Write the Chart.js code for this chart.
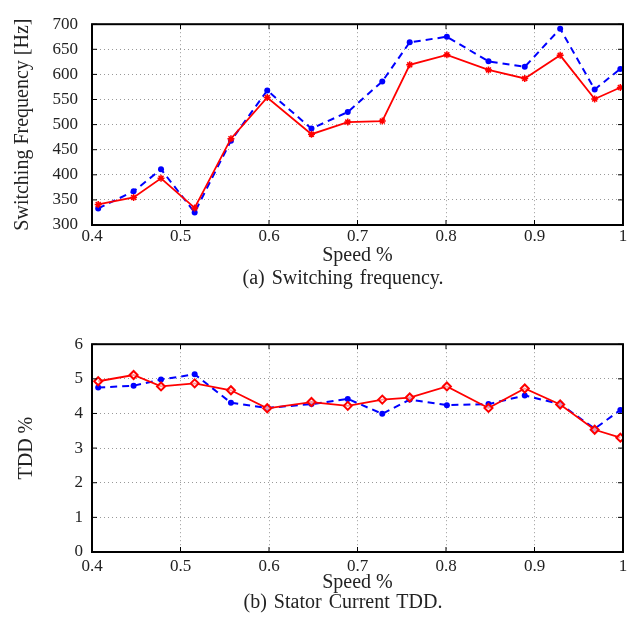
<!DOCTYPE html>
<html>
<head>
<meta charset="utf-8">
<script src="https://cdn.jsdelivr.net/npm/chart.js@4/dist/chart.umd.min.js"></script>
<style>
  body { margin: 0; background: #fff; width: 640px; height: 621px; position: relative; overflow: hidden; }
  .box { position: absolute; left: 0; width: 640px; }
  .caption { position: absolute; left: 0; width: 686px; text-align: center; font-family: "Liberation Serif", serif; font-size: 20px; color: #222; word-spacing: 2px; }
</style>
</head>
<body>
<div class="box" style="top:0;height:268px"><canvas id="freqChart"></canvas></div>
<div class="caption" style="top:266px">(a) Switching frequency.</div>
<div class="box" style="top:325px;height:270px"><canvas id="tddChart"></canvas></div>
<div class="caption" style="top:590px">(b) Stator Current TDD.</div>
<script>
const speed = [0.407, 0.447, 0.478, 0.516, 0.557, 0.598, 0.648, 0.689, 0.728, 0.759, 0.801, 0.848, 0.889, 0.929, 0.968, 0.997];
const freqBlue = [333, 367, 411, 325, 468, 568, 492, 525, 586, 664, 675, 626, 615, 691, 570, 611];
const freqRed = [341, 355, 393, 334, 472, 554, 481, 505, 507, 619, 639, 609, 592, 638, 551, 574];
const tddBlue = [4.75, 4.8, 4.98, 5.13, 4.31, 4.16, 4.27, 4.42, 3.99, 4.40, 4.24, 4.27, 4.52, 4.27, 3.56, 4.10];
const tddRed = [4.93, 5.11, 4.78, 4.87, 4.67, 4.15, 4.33, 4.22, 4.40, 4.46, 4.78, 4.16, 4.72, 4.26, 3.53, 3.30];
const xTicks = [0.4, 0.5, 0.6, 0.7, 0.8, 0.9, 1];

const serif = '"Liberation Serif", "Times New Roman", serif';
const toPoints = (ys) => ys.map((y, i) => ({ x: speed[i], y: y }));

// black box round the plot plus small inward tick marks
const frame = {
  id: 'frame',
  afterDraw(chart) {
    const { ctx, chartArea: a, scales } = chart;
    ctx.save();
    ctx.strokeStyle = '#000';
    ctx.lineWidth = 1;
    scales.y.ticks.forEach(t => {
      const py = scales.y.getPixelForValue(t.value);
      ctx.beginPath();
      ctx.moveTo(a.left, py); ctx.lineTo(a.left + 5, py);
      ctx.moveTo(a.right, py); ctx.lineTo(a.right - 5, py);
      ctx.stroke();
    });
    scales.x.ticks.forEach(t => {
      const px = scales.x.getPixelForValue(t.value);
      ctx.beginPath();
      ctx.moveTo(px, a.bottom); ctx.lineTo(px, a.bottom - 5);
      ctx.moveTo(px, a.top); ctx.lineTo(px, a.top + 5);
      ctx.stroke();
    });
    ctx.lineWidth = 2;
    ctx.strokeRect(a.left, a.top, a.right - a.left, a.bottom - a.top);
    ctx.restore();
  }
};

function makeOptions(o) {
  return {
    responsive: true,
    maintainAspectRatio: false,
    animation: false,
    layout: { padding: { top: o.padTop, right: 17, left: 0, bottom: 0 } },
    plugins: { legend: { display: false }, tooltip: { enabled: false } },
    scales: {
      x: {
        type: 'linear',
        min: 0.4,
        max: 1,
        afterBuildTicks: (s) => { s.ticks = xTicks.map(v => ({ value: v })); },
        afterFit: (s) => { s.height = 43; },
        grid: { color: '#999', drawTicks: false, lineWidth: 1 },
        border: { display: false, dash: [1, 3] },
        ticks: {
          padding: o.xTickPad,
          color: '#222',
          font: { family: serif, size: 17 },
          callback: (v) => String(Number(v.toFixed(1)))
        },
        title: { display: true, text: 'Speed %', color: '#222', font: { family: serif, size: 20 }, padding: 0 }
      },
      y: {
        min: o.yMin,
        max: o.yMax,
        afterFit: (s) => { s.width = 92; },
        grid: { color: '#999', drawTicks: false, lineWidth: 1 },
        border: { display: false, dash: [1, 3] },
        ticks: {
          stepSize: o.yStep,
          padding: o.yTickPad,
          color: '#222',
          font: { family: serif, size: 17 }
        },
        title: { display: true, text: o.yTitle, color: '#222', font: { family: serif, size: 20 }, padding: { top: o.yTitlePad, bottom: 0 } }
      }
    }
  };
}

new Chart(document.getElementById('freqChart'), {
  type: 'line',
  data: {
    datasets: [{
      data: toPoints(freqRed),
      borderColor: '#ff0000',
      backgroundColor: '#ff0000',
      borderWidth: 1.8,
      pointStyle: 'star',
      pointRadius: 3.5,
      pointBorderWidth: 1.5,
      tension: 0
    }, {
      data: toPoints(freqBlue),
      borderColor: '#0000ff',
      backgroundColor: '#0000ff',
      borderWidth: 2,
      borderDash: [7, 5],
      pointStyle: 'circle',
      pointRadius: 3,
      pointBorderWidth: 0,
      tension: 0
    }]
  },
  options: makeOptions({ padTop: 10, yMin: 300, yMax: 700, yStep: 50, yTitle: 'Switching Frequency [Hz]', yTitlePad: 11, yTickPad: 14, xTickPad: 1 }),
  plugins: [frame]
});

new Chart(document.getElementById('tddChart'), {
  type: 'line',
  data: {
    datasets: [{
      data: toPoints(tddRed),
      borderColor: '#ff0000',
      backgroundColor: 'rgba(255,255,255,0.6)',
      borderWidth: 1.8,
      pointStyle: 'rectRot',
      pointRadius: 4,
      pointBorderWidth: 2,
      tension: 0
    }, {
      data: toPoints(tddBlue),
      borderColor: '#0000ff',
      backgroundColor: '#0000ff',
      borderWidth: 2,
      borderDash: [7, 5],
      pointStyle: 'circle',
      pointRadius: 3,
      pointBorderWidth: 0,
      tension: 0
    }]
  },
  options: makeOptions({ padTop: 12, yMin: 0, yMax: 6, yStep: 1, yTitle: 'TDD %', yTitlePad: 15, yTickPad: 9, xTickPad: 4 }),
  plugins: [frame]
});
</script>
</body>
</html>
